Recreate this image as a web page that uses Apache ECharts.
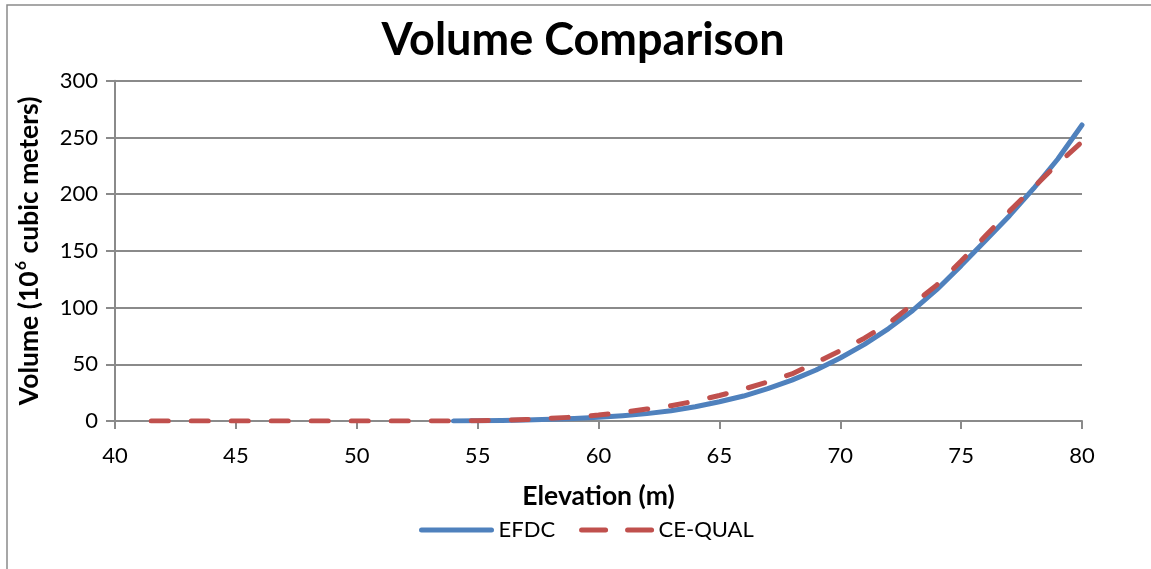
<!DOCTYPE html>
<html>
<head>
<meta charset="utf-8">
<title>Volume Comparison</title>
<script src="https://cdn.jsdelivr.net/npm/echarts@6/dist/echarts.min.js"></script>
<style>
  html, body { margin: 0; padding: 0; background: #ffffff; }
  #chart { width: 1151px; height: 569px; }
</style>
</head>
<body>
<div id="chart"></div>
<script>
// Elevation (m) and storage volume (10^6 m^3) for each model
const efdcElevation = [54, 55, 56, 57, 58, 59, 60, 61, 62, 63, 64, 65, 66, 67, 68, 69, 70, 71, 72, 73, 74, 75, 76, 77, 78, 79, 80];
const efdcVolume    = [0, 0.2, 0.5, 0.9, 1.5, 2.3, 3.3, 4.7, 6.5, 9, 12.5, 17, 22, 28.5, 36, 45, 55.5, 67.5, 81.5, 97.5, 116, 137, 159, 181, 205, 231, 261];

const cequalElevation = [41.5, 43, 45, 47, 49, 51, 53, 54, 55, 56, 57, 58, 59, 60, 61, 62, 63, 64, 65, 66, 67, 68, 69, 70, 71, 72, 73, 74, 75, 76, 77, 78, 79, 80];
const cequalVolume    = [0, 0, 0, 0, 0, 0, 0, 0.1, 0.3, 0.7, 1.3, 2.3, 3.5, 5.2, 7.5, 10.5, 13.5, 17.5, 22.5, 28, 34.5, 41.5, 51.5, 62, 73, 86, 103, 120, 141, 163, 185, 206, 227, 246];

const xTicks = { min: 40, max: 80, interval: 5 };
const yTicks = { min: 0, max: 300, interval: 50 };

const seriesNames = ['EFDC', 'CE-QUAL'];

function pairs(xs, ys) {
  return xs.map((x, i) => [x, ys[i]]);
}

const gridGray = '#8a8a8a';
const font = 'Lato';

const chart = echarts.init(document.getElementById('chart'), null, { renderer: 'canvas' });

chart.setOption({
  backgroundColor: '#ffffff',
  animation: false,
  graphic: [
    {
      type: 'rect',
      shape: { x: 7, y: 5, width: 1300, height: 700 },
      style: { fill: null, stroke: gridGray, lineWidth: 1.5 },
      silent: true,
      z: -10
    },
    {
      type: 'text',
      x: 583,
      y: 40,
      style: {
        text: 'Volume Comparison',
        font: 'bold 45px ' + font,
        fill: '#000000',
        textAlign: 'center',
        textVerticalAlign: 'middle'
      }
    }
  ],
  grid: {
    left: 115,
    right: 69,
    top: 80.7,
    bottom: 148,
    containLabel: false
  },
  legend: {
    left: 414,
    top: 514,
    itemWidth: 70,
    itemHeight: 22,
    itemGap: 24,
    itemStyle: { opacity: 0 },
    lineStyle: { width: 5, cap: 'round' },
    textStyle: { fontFamily: font, fontSize: 22, color: '#000000', padding: [0, 0, 0, 2] },
    data: [
      { name: seriesNames[0] },
      { name: seriesNames[1], lineStyle: { type: [24, 22], width: 5, cap: 'round' } }
    ]
  },
  xAxis: {
    type: 'value',
    min: xTicks.min,
    max: xTicks.max,
    interval: xTicks.interval,
    name: 'Elevation (m)',
    nameLocation: 'middle',
    nameGap: 62,
    nameTextStyle: { fontFamily: font, fontSize: 26.5, fontWeight: 'bold', color: '#000000' },
    axisLine: { show: true, onZero: false, lineStyle: { color: gridGray, width: 2 } },
    axisTick: { show: true, inside: false, length: 8, lineStyle: { color: gridGray, width: 2 } },
    axisLabel: { fontFamily: font, fontSize: 22, color: '#000000', margin: 24 },
    splitLine: { show: false }
  },
  yAxis: {
    type: 'value',
    min: yTicks.min,
    max: yTicks.max,
    interval: yTicks.interval,
    name: '{a|Volume (10}{s|6}{a| cubic meters)}',
    nameLocation: 'middle',
    nameGap: 70,
    nameRotate: 90,
    nameTextStyle: {
      rich: {
        a: { fontFamily: font, fontSize: 26.5, fontWeight: 'bold', color: '#000000', lineHeight: 32 },
        s: { fontFamily: font, fontSize: 16, fontWeight: 'bold', color: '#000000', lineHeight: 18, verticalAlign: 'top', padding: [0, 1, 0, 1] }
      }
    },
    axisLine: { show: true, lineStyle: { color: gridGray, width: 2 } },
    axisTick: { show: true, inside: false, length: 9, lineStyle: { color: gridGray, width: 2 } },
    axisLabel: { fontFamily: font, fontSize: 22, color: '#000000', margin: 17 },
    splitLine: { show: true, lineStyle: { color: gridGray, width: 2 } }
  },
  series: [
    {
      name: seriesNames[0],
      type: 'line',
      data: pairs(efdcElevation, efdcVolume),
      symbol: 'none',
      smooth: false,
      color: '#4f81bd',
      lineStyle: { color: '#4f81bd', width: 5, cap: 'round', join: 'round' },
      z: 3
    },
    {
      name: seriesNames[1],
      type: 'line',
      data: pairs(cequalElevation, cequalVolume),
      symbol: 'none',
      smooth: false,
      color: '#c0504d',
      lineStyle: { color: '#c0504d', width: 5, type: [17, 23], cap: 'round', join: 'round' },
      z: 4
    }
  ]
});
</script>
</body>
</html>
